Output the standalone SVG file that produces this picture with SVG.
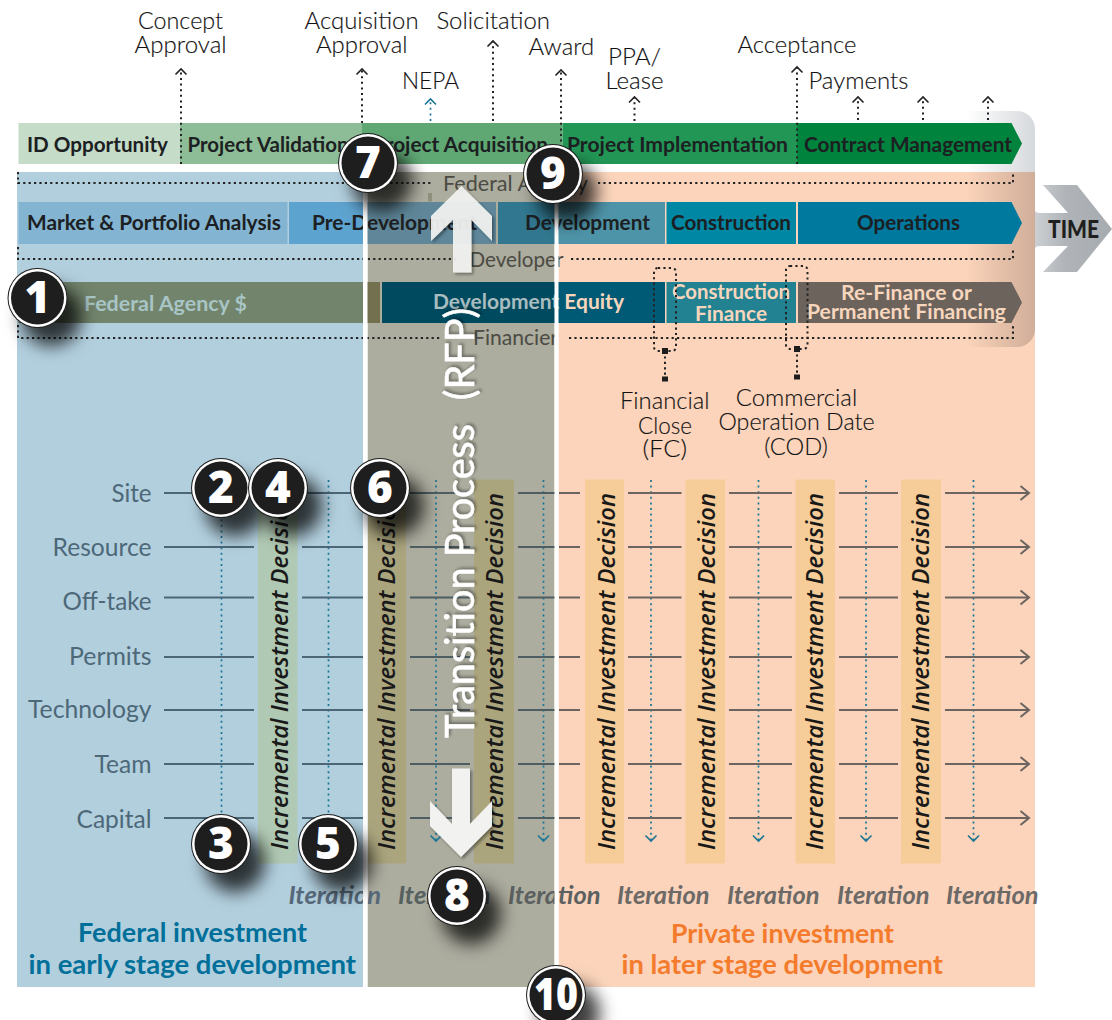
<svg xmlns="http://www.w3.org/2000/svg" width="1112" height="1020" viewBox="0 0 1112 1020">
<style>
text{font-family:"Lato","Open Sans","Liberation Sans",sans-serif}
.top{font-size:24px;fill:#111;font-weight:300;stroke:#222;stroke-width:.15}
.bar{font-size:21px;fill:#1c2022;font-weight:700}
.lite{font-size:21px;fill:#f7d6bd;font-weight:700}
.who{font-size:22px;fill:#4b4b43;font-weight:400}
.ax{font-size:25px;fill:#4d6878;font-weight:400}
.dec{font-family:"Open Sans","Lato",sans-serif;font-size:24px;fill:#191919;font-style:italic;font-weight:600}
.it{font-size:24px;font-style:italic;font-weight:700;fill:#6c6967}
.tt{font-size:27px;font-weight:700}
.num{font-family:"Open Sans","Lato",sans-serif;font-size:44px;font-weight:800;fill:#fff;text-anchor:middle}
.d{fill:none;stroke:#222;stroke-width:2;stroke-dasharray:2 3.6}
.dk{fill:none;stroke:#222;stroke-width:2;stroke-dasharray:2.2 3.2}
.db{fill:none;stroke:#1a7594;stroke-width:1.7;stroke-dasharray:2 3.6}
.hb{stroke:#4c6678;stroke-width:2}
.hg{stroke:#4d5d62;stroke-width:2}
.ho{stroke:#6b6460;stroke-width:2}
.ch{fill:none;stroke:#222;stroke-width:1.6}
.chb{fill:none;stroke:#1a7594;stroke-width:1.6}
.cho{fill:none;stroke:#6b6460;stroke-width:2}
.sq{fill:#1d1d1d}
.wl{fill:#fff}
.ar{fill:#f5f6f4;fill-opacity:.9;filter:url(#sa)}
</style>
<defs>
<marker id="mu" markerUnits="userSpaceOnUse" viewBox="-7 -7 14 14" markerWidth="14" markerHeight="14" refX="0" refY="0" orient="auto"><path class="ch" d="M-5.5 -5.5L0 0L-5.5 5.5"/></marker>
<marker id="mb" markerUnits="userSpaceOnUse" viewBox="-7 -7 14 14" markerWidth="14" markerHeight="14" refX="0" refY="0" orient="auto"><path class="chb" d="M-5.5 -5.5L0 0L-5.5 5.5"/></marker>
<marker id="mo" markerUnits="userSpaceOnUse" viewBox="-10 -8 12 16" markerWidth="12" markerHeight="16" refX="0" refY="0" orient="auto"><path class="cho" d="M-8.5 -7L0 0L-8.5 7"/></marker>
<linearGradient id="gTop" gradientUnits="userSpaceOnUse" x1="966" y1="0" x2="1035" y2="0"><stop offset="0" stop-color="#fff"/><stop offset="1" stop-color="#d6d9dc"/></linearGradient>
<linearGradient id="gTan" gradientUnits="userSpaceOnUse" x1="966" y1="0" x2="1035" y2="0"><stop offset="0" stop-color="#d0ab95" stop-opacity="0"/><stop offset="1" stop-color="#d0ae9a"/></linearGradient>
<linearGradient id="gTime" gradientUnits="userSpaceOnUse" x1="1035" y1="0" x2="1112" y2="0"><stop offset="0" stop-color="#ccd0d3"/><stop offset=".4" stop-color="#b0b4b8"/><stop offset="1" stop-color="#a6abaf"/></linearGradient>
<filter id="sc" x="-50%" y="-50%" width="240%" height="240%"><feDropShadow dx="14" dy="18" stdDeviation="8.500" flood-color="#000" flood-opacity=".75"/></filter>
<filter id="sa" x="-20%" y="-20%" width="140%" height="140%"><feDropShadow dx="2" dy="2" stdDeviation="1.500" flood-color="#000" flood-opacity=".4"/></filter>
<filter id="st" x="-20%" y="-20%" width="140%" height="140%"><feDropShadow dx="2" dy="2" stdDeviation="1.500" flood-color="#000" flood-opacity=".35"/></filter>
<g id="badge"><circle r="30" fill="#1d1d1d" filter="url(#sc)"/><circle r="29" fill="#fff"/><circle r="26.500" fill="#1f1e1f"/></g>
</defs>

<g id="zones">
<path d="M966 111H1017a18 18 0 0 1 18 18V172H966Z" fill="url(#gTop)"/>
<rect id="zone-federal" x="17" y="172" width="346" height="815" fill="#b2cfde"/>
<rect id="zone-transition" x="367.500" y="172" width="187" height="815" fill="#acac9f"/>
<rect id="zone-private" x="558.500" y="172" width="476.500" height="815" fill="#fbd4bb"/>
<path d="M966 172H1035V329a18 18 0 0 1 -18 18H966Z" fill="url(#gTan)"/>
</g>

<g id="time-arrow">
<path d="M1043 185H1077L1112 229L1077 272H1043L1068 246H1040Q1035 246 1035 249V210Q1035 213 1040 213H1068Z" fill="url(#gTime)"/>
<text x="1048" y="238" font-size="25" font-weight="900" fill="#1f1f20" textLength="51" lengthAdjust="spacingAndGlyphs">TIME</text>
</g>

<g id="stage-bar">
<g id="s-id"><rect x="18.500" y="123" width="161.500" height="41" fill="#c4dcc8"/><text class="bar" x="27" y="152" textLength="141" lengthAdjust="spacingAndGlyphs">ID Opportunity</text></g>
<g id="s-val"><rect x="180" y="123" width="182" height="41" fill="#8dbd96"/><text class="bar" x="187.500" y="152" textLength="161" lengthAdjust="spacingAndGlyphs">Project Validation</text></g>
<g id="s-acq"><rect x="362" y="123" width="200.500" height="41" fill="#5fa874"/><text class="bar" x="373" y="152" textLength="175" lengthAdjust="spacingAndGlyphs">Project Acquisition</text></g>
<g id="s-imp"><rect x="562.500" y="123" width="234.500" height="41" fill="#229655"/><text class="bar" x="567" y="152" textLength="221" lengthAdjust="spacingAndGlyphs">Project Implementation</text></g>
<g id="s-con"><path d="M797 123H1011.500L1022 143.500L1011.500 164H797Z" fill="#00843d"/><text class="bar" x="804" y="152" textLength="208" lengthAdjust="spacingAndGlyphs">Contract Management</text></g>
</g>

<g id="developer-bar">
<g id="d-mkt"><rect x="18.500" y="202" width="269" height="42" fill="#83b5d2"/><text class="bar" x="27" y="230" textLength="254" lengthAdjust="spacingAndGlyphs">Market &amp; Portfolio Analysis</text></g>
<g id="d-pre"><rect x="289" y="202" width="74" height="42" fill="#5da3cf"/><rect x="363" y="202" width="133" height="42" fill="#5f8799"/><text class="bar" x="312" y="230" textLength="165" lengthAdjust="spacingAndGlyphs">Pre-Development</text></g>
<g id="d-dev"><rect x="498" y="202" width="58" height="42" fill="#31778f"/><rect x="556" y="202" width="109" height="42" fill="#4e94a8"/><text class="bar" x="525" y="230" textLength="125" lengthAdjust="spacingAndGlyphs">Development</text></g>
<g id="d-cons"><rect x="666.500" y="202" width="129.500" height="42" fill="#0087a3"/><text class="bar" x="671" y="230" textLength="120" lengthAdjust="spacingAndGlyphs">Construction</text></g>
<g id="d-ops"><path d="M798 202H1011.500L1022 223L1011.500 244H798Z" fill="#00799e"/><text class="bar" x="857" y="230" textLength="103" lengthAdjust="spacingAndGlyphs">Operations</text></g>
</g>

<g id="financier-bar">
<g id="f-fed"><rect x="18.500" y="282" width="345" height="41" fill="#72846c"/><rect x="363" y="282" width="17" height="41" fill="#72704f"/><text x="84" y="311" font-size="21" font-weight="700" fill="#a8c5c6" textLength="163" lengthAdjust="spacingAndGlyphs">Federal Agency $</text></g>
<g id="f-equity"><rect x="382" y="282" width="174" height="41" fill="#004a60"/><rect x="556" y="282" width="109" height="41" fill="#005a75"/><text x="433" y="309" font-size="21" font-weight="700" fill="#a9bcbf" textLength="191" lengthAdjust="spacingAndGlyphs">Development <tspan fill="#f7d6bd">Equity</tspan></text></g>
<g id="f-cons"><rect x="666.500" y="282" width="129.500" height="41" fill="#228291"/><text class="lite" x="672" y="298.500" textLength="118" lengthAdjust="spacingAndGlyphs">Construction</text><text class="lite" x="695" y="321" textLength="72" lengthAdjust="spacingAndGlyphs">Finance</text></g>
<g id="f-refi"><path d="M798 282H1011.500L1022 302.500L1011.500 323H798Z" fill="#6b635c"/><text class="lite" x="841" y="300" textLength="131" lengthAdjust="spacingAndGlyphs">Re-Finance or</text><text class="lite" x="807" y="319" textLength="199" lengthAdjust="spacingAndGlyphs">Permanent Financing</text></g>
</g>

<g id="party-labels">
<rect x="428" y="193" width="4" height="8.500" fill="#8f8f7e"/>
<text class="who" x="443" y="190.500" textLength="145" lengthAdjust="spacingAndGlyphs">Federal Agency</text>
<text class="who" x="469.500" y="267" textLength="94" lengthAdjust="spacingAndGlyphs">Developer</text>
<text class="who" x="473" y="345" textLength="85" lengthAdjust="spacingAndGlyphs">Financier</text>
</g>

<g id="milestones">
<text class="top" x="138" y="29" textLength="85" lengthAdjust="spacingAndGlyphs">Concept</text><text class="top" x="134.600" y="53" textLength="92" lengthAdjust="spacingAndGlyphs">Approval</text>
<text class="top" x="304.600" y="29" textLength="114" lengthAdjust="spacingAndGlyphs">Acquisition</text><text class="top" x="316" y="53" textLength="91.500" lengthAdjust="spacingAndGlyphs">Approval</text>
<text class="top" x="436.400" y="29" textLength="113.600" lengthAdjust="spacingAndGlyphs">Solicitation</text>
<text class="top" x="402" y="89" textLength="57" lengthAdjust="spacingAndGlyphs">NEPA</text>
<text class="top" x="528.600" y="55" textLength="65.500" lengthAdjust="spacingAndGlyphs">Award</text>
<text class="top" x="608" y="65" textLength="53" lengthAdjust="spacingAndGlyphs">PPA/</text><text class="top" x="605.500" y="89" textLength="58" lengthAdjust="spacingAndGlyphs">Lease</text>
<text class="top" x="737.500" y="53" textLength="119" lengthAdjust="spacingAndGlyphs">Acceptance</text>
<text class="top" x="808.400" y="89" textLength="100" lengthAdjust="spacingAndGlyphs">Payments</text>
<text class="top" x="620" y="409" textLength="89.500" lengthAdjust="spacingAndGlyphs">Financial</text><text class="top" x="638" y="433.500" textLength="54" lengthAdjust="spacingAndGlyphs">Close</text><text class="top" x="642.500" y="457" textLength="44.500" lengthAdjust="spacingAndGlyphs">(FC)</text>
<text class="top" x="735.700" y="406" textLength="121.500" lengthAdjust="spacingAndGlyphs">Commercial</text><text class="top" x="718.500" y="430" textLength="156" lengthAdjust="spacingAndGlyphs">Operation Date</text><text class="top" x="764.300" y="455" textLength="63.500" lengthAdjust="spacingAndGlyphs">(COD)</text>
</g>

<g id="decisions">
<rect x="258" y="479.500" width="39.500" height="384" fill="#b0c9b4"/>
<rect x="368" y="479.500" width="38" height="384" fill="#aba57e"/>
<rect x="474" y="479.500" width="40" height="384" fill="#aba57e"/>
<rect x="585" y="479.500" width="39" height="384" fill="#f6cc98"/>
<rect x="685.500" y="479.500" width="39.500" height="384" fill="#f6cc98"/>
<rect x="795.500" y="479.500" width="39.500" height="384" fill="#f6cc98"/>
<rect x="901" y="479.500" width="40" height="384" fill="#f6cc98"/>
<text class="dec" transform="translate(287.500 850) rotate(-90)" textLength="357" lengthAdjust="spacingAndGlyphs">Incremental Investment Decision</text>
<text class="dec" transform="translate(395 850) rotate(-90)" textLength="357" lengthAdjust="spacingAndGlyphs">Incremental Investment Decision</text>
<text class="dec" transform="translate(503 850) rotate(-90)" textLength="357" lengthAdjust="spacingAndGlyphs">Incremental Investment Decision</text>
<text class="dec" transform="translate(614.500 850) rotate(-90)" textLength="357" lengthAdjust="spacingAndGlyphs">Incremental Investment Decision</text>
<text class="dec" transform="translate(714.500 850) rotate(-90)" textLength="357" lengthAdjust="spacingAndGlyphs">Incremental Investment Decision</text>
<text class="dec" transform="translate(822.500 850) rotate(-90)" textLength="357" lengthAdjust="spacingAndGlyphs">Incremental Investment Decision</text>
<text class="dec" transform="translate(929 850) rotate(-90)" textLength="357" lengthAdjust="spacingAndGlyphs">Incremental Investment Decision</text>
</g>

<g id="connectors">
<g id="milestone-arrows">
<path class="d" d="M181 164V69" marker-end="url(#mu)"/>
<path class="d" d="M362 123V69" marker-end="url(#mu)"/>
<path class="db" d="M430.500 121V99" marker-end="url(#mb)"/>
<path class="d" d="M493 121V41" marker-end="url(#mu)"/>
<path class="d" d="M561 164V70" marker-end="url(#mu)"/>
<path class="d" d="M634.500 121V97" marker-end="url(#mu)"/>
<path class="d" d="M797 164V67" marker-end="url(#mu)"/>
<path class="d" d="M858 120V97" marker-end="url(#mu)"/>
<path class="d" d="M923 120V97" marker-end="url(#mu)"/>
<path class="d" d="M988 120V97" marker-end="url(#mu)"/>
</g>
<g id="party-dots">
<path class="dk" d="M18 172V183H433"/>
<path class="dk" d="M598 183H1013V172"/>
<path class="dk" d="M18 247V259H456"/>
<path class="dk" d="M571 259H1013V248"/>
<path class="dk" d="M18 325V338H442"/>
<path class="dk" d="M569 338H1013V325"/>
</g>
<g id="close-markers">
<rect class="dk" x="654" y="268" width="22" height="83" rx="4"/>
<rect class="dk" x="786" y="266" width="21.500" height="83" rx="4"/>
<path class="dk" d="M665 351V379"/>
<path class="dk" d="M797 349V377"/>
<rect class="sq" x="662" y="348" width="6" height="6"/><rect class="sq" x="662" y="376.500" width="6" height="5"/>
<rect class="sq" x="794" y="346" width="6" height="6"/><rect class="sq" x="794" y="374.500" width="6" height="5"/>
</g>
<g id="iteration-lines">
<path class="db" d="M221.500 480V841" marker-end="url(#mb)"/>
<path class="db" d="M328.500 480V841" marker-end="url(#mb)"/>
<path class="db" d="M436 480V841" marker-end="url(#mb)"/>
<path class="db" d="M543.500 480V841" marker-end="url(#mb)"/>
<path class="db" d="M651 480V841" marker-end="url(#mb)"/>
<path class="db" d="M758.500 480V841" marker-end="url(#mb)"/>
<path class="db" d="M866 480V841" marker-end="url(#mb)"/>
<path class="db" d="M973.500 480V841" marker-end="url(#mb)"/>
</g>
<g id="tracks">
<path class="hb" d="M164 493H254M302 493H363M164 547H254M302 547H363M164 597.500H254M302 597.500H363M164 657H254M302 657H363M164 710H254M302 710H363M164 764H254M302 764H363M164 818H254M302 818H363"/>
<path class="hg" d="M410 493H470M518 493H555M410 547H470M518 547H555M410 597.500H470M518 597.500H555M410 657H470M518 657H555M410 710H470M518 710H555M410 764H470M518 764H555M410 818H470M518 818H555"/>
<path class="ho" d="M559 493H580M628 493H681.500M729 493H792M839 493H898M559 547H580M628 547H681.500M729 547H792M839 547H898M559 597.500H580M628 597.500H681.500M729 597.500H792M839 597.500H898M559 657H580M628 657H681.500M729 657H792M839 657H898M559 710H580M628 710H681.500M729 710H792M839 710H898M559 764H580M628 764H681.500M729 764H792M839 764H898M559 818H580M628 818H681.500M729 818H792M839 818H898"/>
<path class="ho" d="M945 493H1029" marker-end="url(#mo)"/>
<path class="ho" d="M945 547H1029" marker-end="url(#mo)"/>
<path class="ho" d="M945 597.500H1029" marker-end="url(#mo)"/>
<path class="ho" d="M945 657H1029" marker-end="url(#mo)"/>
<path class="ho" d="M945 710H1029" marker-end="url(#mo)"/>
<path class="ho" d="M945 764H1029" marker-end="url(#mo)"/>
<path class="ho" d="M945 818H1029" marker-end="url(#mo)"/>
</g>
</g>

<g id="axis-labels">
<text class="ax" x="111.500" y="502" textLength="40" lengthAdjust="spacingAndGlyphs">Site</text>
<text class="ax" x="52.500" y="556" textLength="99" lengthAdjust="spacingAndGlyphs">Resource</text>
<text class="ax" x="62.500" y="610" textLength="89" lengthAdjust="spacingAndGlyphs">Off-take</text>
<text class="ax" x="69" y="665" textLength="82.500" lengthAdjust="spacingAndGlyphs">Permits</text>
<text class="ax" x="28" y="718" textLength="123.500" lengthAdjust="spacingAndGlyphs">Technology</text>
<text class="ax" x="94.500" y="773" textLength="57" lengthAdjust="spacingAndGlyphs">Team</text>
<text class="ax" x="76.500" y="828" textLength="75" lengthAdjust="spacingAndGlyphs">Capital</text>
</g>

<g id="iterations">
<text class="it" x="288.500" y="904" style="fill:#56697a" textLength="92.500" lengthAdjust="spacingAndGlyphs">Iteration</text>
<text class="it" x="398" y="904" style="fill:#56605f" textLength="92.500" lengthAdjust="spacingAndGlyphs">Iteration</text>
<text class="it" x="508" y="904" style="fill:#5b6060" textLength="92.500" lengthAdjust="spacingAndGlyphs">Iteration</text>
<text class="it" x="617" y="904" textLength="92.500" lengthAdjust="spacingAndGlyphs">Iteration</text>
<text class="it" x="727" y="904" textLength="92.500" lengthAdjust="spacingAndGlyphs">Iteration</text>
<text class="it" x="837" y="904" textLength="92.500" lengthAdjust="spacingAndGlyphs">Iteration</text>
<text class="it" x="946" y="904" textLength="92.500" lengthAdjust="spacingAndGlyphs">Iteration</text>
</g>

<g id="zone-titles">
<text class="tt" x="78" y="942" fill="#006f99" textLength="229" lengthAdjust="spacingAndGlyphs">Federal investment</text>
<text class="tt" x="28.500" y="973.500" fill="#006f99" textLength="327.500" lengthAdjust="spacingAndGlyphs">in early stage development</text>
<text class="tt" x="671" y="943" fill="#f47b2b" textLength="223" lengthAdjust="spacingAndGlyphs">Private investment</text>
<text class="tt" x="621.500" y="974" fill="#f47b2b" textLength="321.500" lengthAdjust="spacingAndGlyphs">in later stage development</text>
</g>

<g id="dividers">
<rect class="wl" x="363" y="165" width="4.500" height="822"/>
<rect class="wl" x="554.500" y="165" width="4" height="822"/>
</g>

<g id="transition">
<path class="ar" d="M461.500 186L492 216V241L471.500 220V272.500H453V220L431 241V216Z"/>
<text transform="translate(474 738) rotate(-90)" font-size="40" font-weight="400" fill="#fff" stroke="#fff" stroke-width=".5" filter="url(#st)" textLength="430" lengthAdjust="spacingAndGlyphs">Transition Process <tspan dx="14">(RFP)</tspan></text>
<path class="ar" style="fill-opacity:.97" d="M452 768.500H470V824L492 801V826L461 857L430 826V801L452 824Z"/>
</g>

<g id="badges">
<g id="b1" transform="translate(37.500 298)"><use href="#badge"/><text class="num" y="15">1</text></g>
<g id="b2" transform="translate(221 488)"><use href="#badge"/><text class="num" y="15">2</text></g>
<g id="b4" transform="translate(278 488)"><use href="#badge"/><text class="num" y="15">4</text></g>
<g id="b6" transform="translate(380 488)"><use href="#badge"/><text class="num" y="15">6</text></g>
<g id="b3" transform="translate(221 844)"><use href="#badge"/><text class="num" y="15">3</text></g>
<g id="b5" transform="translate(328 844)"><use href="#badge"/><text class="num" y="15">5</text></g>
<g id="b8" transform="translate(457 896)"><use href="#badge"/><text class="num" y="15">8</text></g>
<g id="b7" transform="translate(368 163)"><use href="#badge"/><text class="num" y="15">7</text></g>
<g id="b9" transform="translate(553 174)"><use href="#badge"/><text class="num" y="15">9</text></g>
<g id="b10" transform="translate(556 995)"><use href="#badge"/><text class="num" y="15" textLength="44" lengthAdjust="spacingAndGlyphs">10</text></g>
</g>
</svg>
